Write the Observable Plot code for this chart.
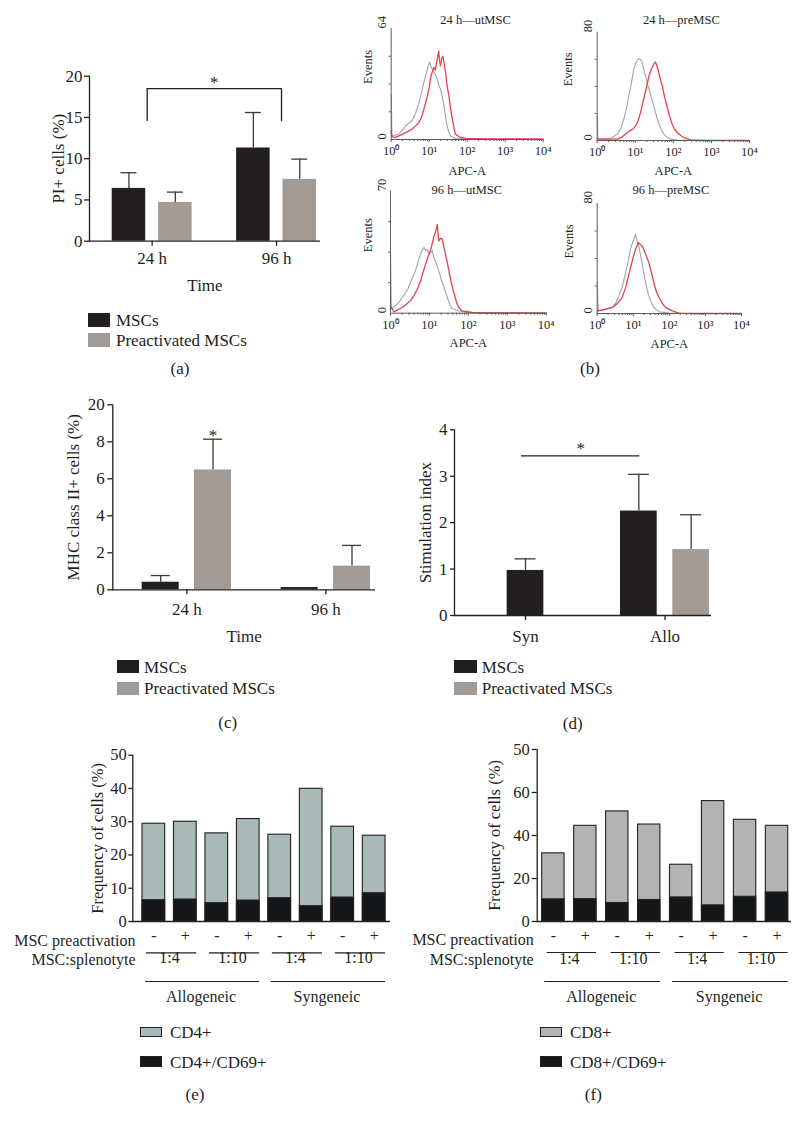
<!DOCTYPE html>
<html>
<head>
<meta charset="utf-8">
<script src="https://cdn.jsdelivr.net/npm/d3@7"></script>
<script src="https://cdn.jsdelivr.net/npm/@observablehq/plot@0.6"></script>
<style>
  html, body { margin: 0; padding: 0; background: #fff; }
  #fig { position: relative; width: 799px; height: 1125px; overflow: hidden;
         font-family: "Liberation Serif", "Times New Roman", serif; color: #231f20; }
  .t { position: absolute; white-space: nowrap; font-size: 17px; line-height: 1; }
  .sw { position: absolute; box-sizing: border-box; }
</style>
</head>
<body>
<div id="fig"></div>
<script>
// ================= DATA =================
const timeGroups = ["24 h", "96 h"];
const seriesNames = ["MSCs", "Preactivated MSCs"];

// (a) PI+ cells (%)
const piMSC = [6.4, 11.3];
const piMSCErr = [8.3, 15.6];
const piPre = [4.7, 7.5];
const piPreErr = [5.95, 9.95];
const piTicks = [0, 5, 10, 15, 20];
const piBracket = [{from: "24 h", to: "96 h", top: 18.5, foot: 14.5, label: "*"}];

// (c) MHC class II+ cells (%)
const mhcMSC = [0.41, 0.12];
const mhcMSCErr = [0.77, null];
const mhcPre = [6.48, 1.28];
const mhcPreErr = [8.14, 2.4];
const mhcTickValues = [0, 2, 4, 6, 8, 10];
const mhcTickLabels = ["0", "2", "4", "6", "8", "20"];
const mhcStar = [{g: "24 h", s: "Preactivated MSCs", label: "*"}];

// (d) Stimulation index
const stimGroups = ["Syn", "Allo"];
const stimMSC = [0.97, 2.25];
const stimMSCErr = [1.22, 3.04];
const stimPre = [null, 1.42];
const stimPreErr = [null, 2.17];
const stimTicks = [0, 1, 2, 3, 4];
const stimLine = [{from: "Syn", to: "Allo", level: 3.44, label: "*"}];

// (b) flow histograms: [log10(APC-A), events]
const decadeTicks = [0, 1, 2, 3, 4];
const decadeLabels = ["10⁰", "10¹", "10²", "10³", "10⁴"];
const histTitles = ["24 h—utMSC", "24 h—preMSC", "96 h—utMSC", "96 h—preMSC"];
const histMax = [64, 80, 70, 80];
const h24utGray = [[0,26],[0.02,2],[0.2,3],[0.38,7.9],[0.55,10.8],[0.64,15],[0.73,21],[0.8,27],[0.86,33],[0.92,38],[0.95,40.5],[1.01,44.8],[1.05,42],[1.08,40.5],[1.14,38],[1.21,35],[1.26,31],[1.3,29],[1.35,24],[1.39,19.4],[1.43,13],[1.47,7.9],[1.52,4],[1.56,2],[1.69,0.6],[2,0.4],[2.5,0.3],[3,0.3],[3.5,0.2],[4,0.2]];
const h24utRed = [[0,5],[0.02,1.5],[0.11,1.2],[0.25,2.5],[0.38,4],[0.55,6],[0.65,8],[0.73,9.8],[0.8,13],[0.86,17.5],[0.95,25],[1,30],[1.04,35.7],[1.08,39],[1.12,41.5],[1.16,40],[1.21,46],[1.25,51],[1.28,44],[1.3,42.5],[1.33,47],[1.36,48],[1.4,43],[1.43,38.6],[1.47,31],[1.52,25],[1.56,18],[1.61,11.7],[1.65,7],[1.69,3],[1.82,1.2],[1.96,0.6],[2.2,0.5],[2.6,0.4],[3,0.3],[3.5,0.3],[4,0.2]];
const h24preGray = [[0,18],[0.02,1],[0.35,1.5],[0.53,4.7],[0.62,9],[0.7,15.8],[0.77,24],[0.83,33],[0.9,43],[0.96,52.7],[1.02,58],[1.09,60.6],[1.13,60],[1.18,58],[1.22,53],[1.27,47.8],[1.33,41],[1.4,34.2],[1.47,27],[1.53,20.7],[1.6,14],[1.66,9.6],[1.72,6],[1.79,3.4],[1.93,1],[2.1,0.3],[2.5,0.1],[4,0]];
const h24preRed = [[0,1],[0.53,1],[0.65,2.5],[0.79,5.9],[0.88,7.5],[0.96,8.9],[1.03,12],[1.09,15.8],[1.16,23],[1.23,31.8],[1.3,40],[1.36,47.8],[1.4,51],[1.44,54],[1.49,56.5],[1.53,58],[1.57,55],[1.62,50],[1.66,45],[1.71,40.4],[1.77,32],[1.84,24.4],[1.9,18],[1.97,12],[2.03,8.5],[2.1,5.9],[2.2,3.5],[2.28,2.2],[2.45,0.5],[2.8,0],[4,0]];
const h96utGray = [[0,36],[0.02,2.3],[0.21,6.1],[0.3,9],[0.39,11.9],[0.45,14],[0.51,17.6],[0.58,21],[0.64,24.3],[0.7,29],[0.77,33.9],[0.82,36.5],[0.86,37.7],[0.9,36],[0.94,36.7],[1,34],[1.07,35.8],[1.13,31],[1.2,27.2],[1.27,22],[1.33,17.6],[1.4,13],[1.46,9],[1.52,5],[1.58,2.7],[1.76,1.3],[2.01,0.4],[2.5,0.2],[3,0.2],[4,0.1]];
const h96utRed = [[0,4.2],[0.09,0.8],[0.3,3.3],[0.4,5],[0.51,7.1],[0.6,10],[0.69,13.8],[0.78,19],[0.86,25.2],[0.93,30],[0.99,33.9],[1.05,38],[1.11,43.4],[1.16,47],[1.2,51],[1.22,46],[1.24,41.5],[1.29,43],[1.33,42.5],[1.39,36],[1.46,29],[1.52,22],[1.58,15.7],[1.65,10],[1.71,5.2],[1.78,2.5],[1.84,1.3],[2.1,0.4],[2.6,0.2],[3,0.2],[4,0.1]];
const h96preGray = [[0,22.5],[0.03,1.9],[0.2,2.5],[0.42,4.4],[0.51,7.5],[0.6,12.8],[0.7,20],[0.79,29.8],[0.86,38],[0.92,46.8],[1,53],[1.06,57.7],[1.1,53],[1.15,49.2],[1.22,40],[1.29,29.8],[1.36,20],[1.43,12.8],[1.5,8],[1.57,4.4],[1.71,1.2],[1.99,0.3],[2.5,0],[4,0]];
const h96preRed = [[0,1.9],[0.2,3],[0.42,4.4],[0.55,7],[0.69,11.6],[0.79,19],[0.88,28.6],[0.95,36],[1.02,43],[1.08,48],[1.15,51.6],[1.2,50],[1.25,49],[1.29,46.8],[1.36,42],[1.43,37],[1.5,30],[1.57,22.5],[1.64,16],[1.71,11.6],[1.8,7.5],[1.89,4.4],[2.08,1.9],[2.26,0.2],[2.6,0],[4,0]];

// (e)(f) stacked frequencies
const conditions = ["Allo 1:4 -", "Allo 1:4 +", "Allo 1:10 -", "Allo 1:10 +", "Syn 1:4 -", "Syn 1:4 +", "Syn 1:10 -", "Syn 1:10 +"];
const preactSigns = ["-", "+", "-", "+", "-", "+", "-", "+"];
const ratioGroups = [
  {first: "Allo 1:4 -", last: "Allo 1:4 +", label: "1:4"},
  {first: "Allo 1:10 -", last: "Allo 1:10 +", label: "1:10"},
  {first: "Syn 1:4 -", last: "Syn 1:4 +", label: "1:4"},
  {first: "Syn 1:10 -", last: "Syn 1:10 +", label: "1:10"}
];
const originGroups = [
  {first: "Allo 1:4 -", mid: "Allo 1:4 +", last: "Allo 1:10 +", label: "Allogeneic"},
  {first: "Syn 1:4 -", mid: "Syn 1:4 +", last: "Syn 1:10 +", label: "Syngeneic"}
];
const cd4Total = [29.4, 30.0, 26.5, 30.8, 26.1, 39.9, 28.5, 25.8];
const cd4Act = [6.4, 6.6, 5.5, 6.3, 7.0, 4.6, 7.2, 8.5];
const cd8Total = [31.7, 44.5, 51.2, 45.1, 26.4, 56.0, 47.3, 44.5];
const cd8Act = [10.3, 10.4, 8.6, 10.0, 11.2, 7.5, 11.5, 13.5];
const eTicks = [0, 10, 20, 30, 40, 50];
const fTickValues = [0, 20, 40, 60, 80];
const fTickLabels = ["0", "20", "40", "60", "50"];

// ================= STYLE =================
const F = '"Liberation Serif", "Times New Roman", serif';
const INK = "#231f20";
const ERR = "#3a3a3a";
const C_MSC = "#231f20";
const C_PRE = "#a19a95";
const C_CD4 = "#a9b9b8";
const C_CD8 = "#b3b3b3";
const C_ACT = "#141618";
const EDGE = "#202020";
const H_AX = "#5c5c5c";
const H_GRAY = "#a3a3a3";
const H_RED = "#e5434c";

const fig = document.getElementById("fig");
function place(node, left, top) {
  const d = document.createElement("div");
  d.style.cssText = `position:absolute;left:${left}px;top:${top}px;`;
  d.appendChild(node);
  fig.appendChild(d);
}
function label(str, cx, cy, size = 17) {
  const d = document.createElement("div");
  d.className = "t";
  d.textContent = str;
  d.style.left = cx + "px"; d.style.top = cy + "px";
  d.style.fontSize = size + "px";
  d.style.transform = "translate(-50%,-50%)";
  fig.appendChild(d);
}
function legendRow(text, color, sx, sy, sw, sh, tx, border) {
  const s = document.createElement("div");
  s.className = "sw";
  s.style.cssText += `left:${sx}px;top:${sy - sh / 2}px;width:${sw}px;height:${sh}px;background:${color};` + (border ? `border:1px solid ${EDGE};` : "");
  fig.appendChild(s);
  const d = document.createElement("div");
  d.className = "t";
  d.textContent = text;
  d.style.left = tx + "px"; d.style.top = sy + "px";
  d.style.transform = "translate(0,-50%)";
  fig.appendChild(d);
}
function baseStyle(size) {
  return {fontFamily: F, fontSize: size, color: INK, background: "transparent", overflow: "visible"};
}

// ================= GROUPED BAR PANELS (a, c, d) =================
function barPanel(o) {
  const {box, fr} = o;
  const xOpts = {type: "band", domain: o.groups, range: [o.band[0] - box.x, o.band[1] - box.x], paddingInner: o.pad, paddingOuter: 0, round: false};
  const xs = Plot.scale({x: xOpts});
  const bw = xs.bandwidth;
  const step = xs.apply(o.groups[1]) - xs.apply(o.groups[0]);
  const half = o.barW / 2, capHalf = o.capW / 2;
  const off = bw / 2 - half;
  const rows = [];
  o.groups.forEach((g, i) => {
    if (o.msc[i] != null) rows.push({g, s: seriesNames[0], v: o.msc[i], e: o.mscErr[i]});
    if (o.pre[i] != null) rows.push({g, s: seriesNames[1], v: o.pre[i], e: o.preErr[i]});
  });
  const paired = r => rows.some(q => q.g === r.g && q.s !== r.s);
  const L = rows.filter(r => paired(r) && r.s === seriesNames[0]);
  const R = rows.filter(r => paired(r) && r.s === seriesNames[1]);
  const S = rows.filter(r => !paired(r));
  const err = (arr, dx, inL, inR) => {
    const a = arr.filter(r => r.e != null);
    return [
      Plot.ruleX(a, {x: "g", y1: "v", y2: "e", dx, stroke: ERR, strokeWidth: 1.3}),
      Plot.tickY(a, {x: "g", y: "e", insetLeft: inL, insetRight: inR, stroke: ERR, strokeWidth: 1.3})
    ];
  };
  const fillOf = s => s === seriesNames[0] ? C_MSC : C_PRE;
  const ctx = {bw, step, off};
  const p = Plot.plot({
    width: box.w, height: box.h,
    marginLeft: fr.x0 - box.x, marginRight: box.x + box.w - fr.x1,
    marginTop: fr.yTop - box.y, marginBottom: box.y + box.h - fr.yBase,
    style: baseStyle("17px"),
    x: xOpts,
    y: {domain: o.yDomain, range: [fr.yBase - box.y, fr.yTop - box.y]},
    marks: [
      ...err(L, -off, half - capHalf, bw - half - capHalf),
      ...err(R, off, bw - half - capHalf, half - capHalf),
      ...err(S, 0, bw / 2 - capHalf, bw / 2 - capHalf),
      Plot.barY(L, {x: "g", y: "v", fill: fillOf(seriesNames[0]), insetRight: bw - o.barW}),
      Plot.barY(R, {x: "g", y: "v", fill: fillOf(seriesNames[1]), insetLeft: bw - o.barW}),
      ...seriesNames.map(s => Plot.barY(S.filter(r => r.s === s), {x: "g", y: "v", fill: fillOf(s), insetLeft: (bw - o.barW) / 2, insetRight: (bw - o.barW) / 2})),
      Plot.ruleY([0], {stroke: INK, strokeWidth: 1.3}),
      Plot.frame({anchor: "left", stroke: INK, strokeWidth: 1.3}),
      Plot.axisY({ticks: o.yTicks, tickFormat: d => (o.yLabels ? o.yLabels[o.yTicks.indexOf(d)] : String(d)),
                  tickSize: o.yTickSize, tickPadding: o.yTickPad, strokeWidth: 1.3,
                  label: o.yTitle, labelAnchor: "center", labelOffset: o.yTitleOff, labelArrow: "none"}),
      Plot.axisX({tickSize: 5, tickPadding: o.xTickPad, strokeWidth: 1.3,
                  label: o.xTitle || null, labelAnchor: "center", labelOffset: o.xTitleOff, labelArrow: "none"}),
      ...o.extra(ctx)
    ]
  });
  place(p, box.x, box.y);
}

// (a)
barPanel({
  box: {x: 0, y: 50, w: 340, h: 250},
  fr: {x0: 89, x1: 320, yTop: 75.7, yBase: 240.7},
  groups: timeGroups, band: [111.7, 316], pad: 0.358,
  msc: piMSC, mscErr: piMSCErr, pre: piPre, preErr: piPreErr,
  barW: 33.5, capW: 16,
  yDomain: [0, 20], yTicks: piTicks, yTickSize: 5, yTickPad: 2,
  yTitle: "PI+ cells (%)", yTitleOff: 38,
  xTitle: "Time", xTickPad: 6, xTitleOff: 50,
  extra: ({bw, step}) => {
    const inset = 35;
    return [
      Plot.ruleY(piBracket, {x1: "from", x2: "to", y: "top", insetLeft: inset, insetRight: inset, stroke: INK, strokeWidth: 1.3}),
      Plot.ruleX(piBracket, {x: "from", y1: "foot", y2: "top", dx: inset - bw / 2, stroke: INK, strokeWidth: 1.3}),
      Plot.ruleX(piBracket, {x: "to", y1: "foot", y2: "top", dx: bw / 2 - inset, stroke: INK, strokeWidth: 1.3}),
      Plot.text(piBracket, {x: "from", y: "top", text: "label", dx: step / 2, dy: -6, fontSize: 17})
    ];
  }
});

// (c)
barPanel({
  box: {x: 0, y: 390, w: 390, h: 270},
  fr: {x0: 112.3, x1: 375, yTop: 404.3, yBase: 589.3},
  groups: timeGroups, band: [141.7, 370], pad: 0.3576,
  msc: mhcMSC, mscErr: mhcMSCErr, pre: mhcPre, preErr: mhcPreErr,
  barW: 37, capW: 19,
  yDomain: [0, 10], yTicks: mhcTickValues, yLabels: mhcTickLabels, yTickSize: 5, yTickPad: 3,
  yTitle: "MHC class II+ cells (%)", yTitleOff: 46,
  xTitle: "Time", xTickPad: 8.5, xTitleOff: 52,
  extra: ({off}) => [
    Plot.text(mhcStar, {x: "g", y: (d) => mhcPreErr[timeGroups.indexOf(d.g)], text: "label", dx: off, dy: -4, fontSize: 17})
  ]
});

// (d)
barPanel({
  box: {x: 390, y: 410, w: 340, h: 250},
  fr: {x0: 454, x1: 711, yTop: 429.3, yBase: 615},
  groups: stimGroups, band: [480.5, 709], pad: 0.362,
  msc: stimMSC, mscErr: stimMSCErr, pre: stimPre, preErr: stimPreErr,
  barW: 36.7, capW: 21,
  yDomain: [0, 4], yTicks: stimTicks, yTickSize: 4, yTickPad: 3,
  yTitle: "Stimulation index", yTitleOff: 36,
  xTitle: null, xTickPad: 9.5, xTitleOff: 40,
  extra: ({step}) => {
    const inL = 40.5, inR = 69.7;
    return [
      Plot.ruleY(stimLine, {x1: "from", x2: "to", y: "level", insetLeft: inL, insetRight: inR, stroke: INK, strokeWidth: 1.3}),
      Plot.text(stimLine, {x: "from", y: "level", text: "label", dx: (step + inL - inR) / 2, dy: -7, fontSize: 17})
    ];
  }
});

// ================= HISTOGRAMS (b) =================
const minorTicks = [];
for (let d = 0; d < 4; d++) for (let k = 2; k <= 9; k++) minorTicks.push(d + Math.log10(k));

function histPanel(o) {
  const {box, fr} = o;
  const q = [o.ymax / 4, o.ymax / 2, 3 * o.ymax / 4];
  const p = Plot.plot({
    width: box.w, height: box.h,
    marginLeft: fr.x0 - box.x, marginRight: box.x + box.w - fr.x1,
    marginTop: fr.yTop - box.y, marginBottom: box.y + box.h - fr.yBase,
    style: baseStyle("12.5px"),
    x: {domain: [0, 4]},
    y: {domain: [0, o.ymax]},
    marks: [
      Plot.line(o.gray, {x: d => d[0], y: d => d[1], stroke: H_GRAY, strokeWidth: 1.1}),
      Plot.line(o.red, {x: d => d[0], y: d => d[1], stroke: H_RED, strokeWidth: 1.3}),
      Plot.ruleX([0], {stroke: H_AX, strokeWidth: 1}),
      Plot.ruleY([0], {stroke: H_AX, strokeWidth: 1}),
      Plot.axisX({ticks: decadeTicks, tickFormat: d => decadeLabels[decadeTicks.indexOf(d)], tickSize: 3, tickPadding: 4,
                  stroke: H_AX, label: "APC-A", labelAnchor: "center", labelOffset: o.xTitleOff, labelArrow: "none"}),
      Plot.axisX({ticks: minorTicks, tickSize: 2, tickFormat: () => "", stroke: H_AX, label: null}),
      Plot.axisY({ticks: q, tickSize: 2, tickFormat: () => "", stroke: H_AX, label: null}),
      Plot.text([0, o.ymax], {y: d => d, frameAnchor: "left", rotate: -90, dx: -9, text: d => String(d)}),
      Plot.text(["Events"], {frameAnchor: "left", rotate: -90, dx: o.eventsX - fr.x0}),
      Plot.text([o.title], {frameAnchor: "top", dx: o.tdx, dy: o.tdy})
    ]
  });
  place(p, box.x, box.y);
}

histPanel({title: histTitles[0], ymax: histMax[0], gray: h24utGray, red: h24utRed,
  box: {x: 355, y: 0, w: 200, h: 175}, fr: {x0: 390.7, x1: 542.7, yTop: 28, yBase: 139},
  tdx: 8.3, tdy: -13, eventsX: 367, xTitleOff: 35});
histPanel({title: histTitles[1], ymax: histMax[1], gray: h24preGray, red: h24preRed,
  box: {x: 560, y: 0, w: 200, h: 175}, fr: {x0: 596.7, x1: 749, yTop: 31.7, yBase: 140},
  tdx: 8, tdy: -16.7, eventsX: 567.5, xTitleOff: 34});
histPanel({title: histTitles[2], ymax: histMax[2], gray: h96utGray, red: h96utRed,
  box: {x: 355, y: 170, w: 200, h: 180}, fr: {x0: 390, x1: 545.7, yTop: 190.7, yBase: 312.7},
  tdx: -1.5, tdy: -5.7, eventsX: 367, xTitleOff: 34});
histPanel({title: histTitles[3], ymax: histMax[3], gray: h96preGray, red: h96preRed,
  box: {x: 560, y: 170, w: 200, h: 180}, fr: {x0: 596.7, x1: 741, yTop: 203, yBase: 313},
  tdx: 1.6, tdy: -18, eventsX: 568, xTitleOff: 34});

// ================= STACKED PANELS (e, f) =================
function stackPanel(o) {
  const {box, fr} = o;
  const xOpts = {type: "band", domain: conditions, range: [o.band[0] - box.x, o.band[1] - box.x], paddingInner: o.pad, paddingOuter: 0, round: false};
  const xs = Plot.scale({x: xOpts});
  const step = xs.apply(conditions[1]) - xs.apply(conditions[0]);
  const rows = conditions.map((c, i) => ({c, total: o.total[i], act: o.act[i]}));
  const p = Plot.plot({
    width: box.w, height: box.h,
    marginLeft: fr.x0 - box.x, marginRight: box.x + box.w - fr.x1,
    marginTop: fr.yTop - box.y, marginBottom: box.y + box.h - fr.yBase,
    style: baseStyle("16px"),
    x: xOpts,
    y: {domain: o.yDomain, range: [fr.yBase - box.y, fr.yTop - box.y]},
    marks: [
      Plot.barY(rows, {x: "c", y: "total", fill: o.fill, stroke: EDGE, strokeWidth: 1.1}),
      Plot.barY(rows, {x: "c", y: "act", fill: C_ACT, stroke: EDGE, strokeWidth: 1.1}),
      Plot.ruleY([0], {stroke: INK, strokeWidth: 1.3}),
      Plot.frame({anchor: "left", stroke: INK, strokeWidth: 1.3}),
      Plot.axisY({ticks: o.yTicks, tickFormat: d => (o.yLabels ? o.yLabels[o.yTicks.indexOf(d)] : String(d)),
                  tickSize: o.yTickSize, tickPadding: o.yTickPad, strokeWidth: 1.3, fontSize: 16.5,
                  label: "Frequency of cells (%)", labelAnchor: "center", labelOffset: o.yTitleOff, labelArrow: "none"}),
      Plot.axisX({tickSize: 0, tickPadding: 8, tickFormat: d => preactSigns[conditions.indexOf(d)], label: null}),
      Plot.ruleY(ratioGroups, {x1: "first", x2: "last", y: () => 0, dy: o.ratioLineDy, insetLeft: o.ratioInset, stroke: INK, strokeWidth: 1.2}),
      Plot.text(ratioGroups, {x: "first", frameAnchor: "bottom", dx: step / 2, dy: o.ratioTextDy, text: "label"}),
      Plot.ruleY(originGroups, {x1: "first", x2: "last", y: () => 0, dy: o.originLineDy, insetLeft: o.originInset, stroke: INK, strokeWidth: 1.2}),
      Plot.text(originGroups, {x: "mid", frameAnchor: "bottom", dx: step / 2, dy: o.originTextDy, text: "label"}),
      Plot.text(["MSC preactivation"], {frameAnchor: "bottom-left", textAnchor: "end", dx: o.rowDx, dy: o.preDy}),
      Plot.text(["MSC:splenotyte"], {frameAnchor: "bottom-left", textAnchor: "end", dx: o.rowDx, dy: o.splDy})
    ]
  });
  place(p, box.x, box.y);
}

stackPanel({
  box: {x: 0, y: 740, w: 400, h: 285},
  fr: {x0: 132.3, x1: 390, yTop: 754.7, yBase: 921},
  band: [142, 385], pad: 0.279,
  total: cd4Total, act: cd4Act, fill: C_CD4,
  yDomain: [0, 50], yTicks: eTicks, yTickSize: 4, yTickPad: 2, yTitleOff: 41.6,
  ratioLineDy: 31.3, ratioInset: 4, ratioTextDy: 41.7,
  originLineDy: 60, originInset: 3, originTextDy: 80,
  rowDx: 2.7, preDy: 24, splDy: 43
});
stackPanel({
  box: {x: 400, y: 740, w: 399, h: 285},
  fr: {x0: 536.7, x1: 791, yTop: 749, yBase: 921},
  band: [541.7, 787.7], pad: 0.30,
  total: cd8Total, act: cd8Act, fill: C_CD8,
  yDomain: [0, 80], yTicks: fTickValues, yLabels: fTickLabels, yTickSize: 5, yTickPad: 2.5, yTitleOff: 49.2,
  ratioLineDy: 31, ratioInset: 5, ratioTextDy: 42,
  originLineDy: 60, originInset: 2.6, originTextDy: 80,
  rowDx: -3.5, preDy: 23.5, splDy: 43
});

// ================= LEGENDS & PANEL LETTERS =================
legendRow(seriesNames[0], C_MSC, 88, 320, 22, 13.4, 116, false);
legendRow(seriesNames[1], C_PRE, 88, 340, 22, 13.4, 116, false);
legendRow(seriesNames[0], C_MSC, 116.7, 666.7, 22.3, 13.4, 144, false);
legendRow(seriesNames[1], C_PRE, 116.7, 688.3, 22.3, 13.4, 144, false);
legendRow(seriesNames[0], C_MSC, 454, 666.7, 22.7, 13.4, 481.7, false);
legendRow(seriesNames[1], C_PRE, 454, 688.3, 22.7, 13.4, 481.7, false);
legendRow("CD4+", C_CD4, 140, 1032, 21.7, 10.5, 170, true);
legendRow("CD4+/CD69+", C_ACT, 140, 1061.7, 21.7, 10.5, 170, true);
legendRow("CD8+", C_CD8, 540, 1032, 21.7, 10.5, 570, true);
legendRow("CD8+/CD69+", C_ACT, 540, 1061.7, 21.7, 10.5, 570, true);

label("(a)", 180, 368);
label("(b)", 590, 368);
label("(c)", 227.7, 721.7);
label("(d)", 572.7, 722.7);
label("(e)", 195, 1094);
label("(f)", 593.3, 1094);
</script>
</body>
</html>
